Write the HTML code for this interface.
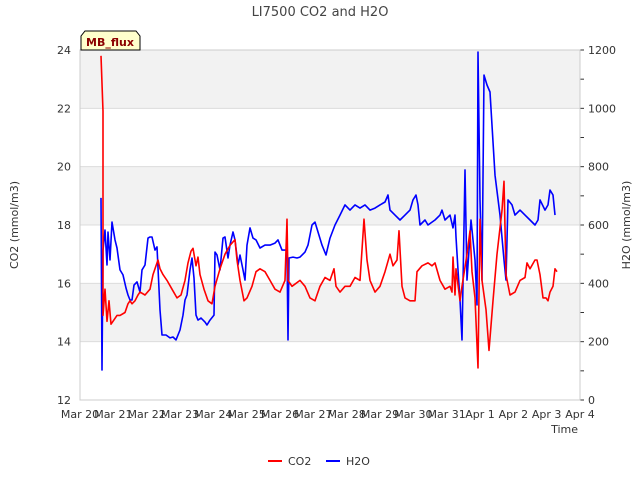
<!DOCTYPE html>
<html><head><meta charset="utf-8"><style>
body{margin:0;background:#fff;font-family:"Liberation Sans",sans-serif}
svg text{font-family:"DejaVu Sans","Liberation Sans",sans-serif}
</style></head><body>
<svg id="c" width="640" height="480"></svg>
<script>
const xTicks=["Mar 20","Mar 21","Mar 22","Mar 23","Mar 24","Mar 25","Mar 26","Mar 27","Mar 28","Mar 29","Mar 30","Mar 31","Apr 1","Apr 2","Apr 3","Apr 4"];
const yLeftTicks=[12,14,16,18,20,22,24];
const yRightTicks=[0,200,400,600,800,1000,1200];
const co2Days=[.63,.69,.69,.75,.81,.87,.93,.99,1.11,1.2,1.35,1.44,1.5,1.56,1.65,1.74,1.8,1.95,2.1,2.19,2.28,2.34,2.4,2.49,2.61,2.76,2.91,3.03,3.15,3.24,3.33,3.39,3.48,3.54,3.6,3.72,3.84,3.96,4.05,4.2,4.35,4.5,4.65,4.71,4.8,4.92,5.01,5.16,5.28,5.4,5.55,5.7,5.85,6.0,6.15,6.21,6.24,6.36,6.6,6.75,6.9,7.05,7.2,7.35,7.5,7.62,7.68,7.8,7.95,8.1,8.25,8.4,8.52,8.61,8.7,8.85,9.0,9.15,9.3,9.39,9.51,9.57,9.66,9.75,9.9,10.05,10.11,10.26,10.44,10.56,10.65,10.8,10.95,11.1,11.16,11.19,11.25,11.28,11.4,11.46,11.61,11.7,11.76,11.85,11.94,12.0,12.06,12.18,12.27,12.39,12.51,12.66,12.72,12.78,12.9,13.05,13.2,13.35,13.41,13.5,13.65,13.71,13.8,13.89,13.98,14.04,14.1,14.19,14.25,14.31];
const co2Vals=[23.8,21.9,14.9,15.8,14.7,15.4,14.6,14.7,14.9,14.9,15.0,15.3,15.4,15.3,15.4,15.6,15.7,15.6,15.8,16.3,16.6,16.8,16.5,16.3,16.1,15.8,15.5,15.6,16.1,16.7,17.1,17.2,16.6,16.9,16.3,15.8,15.4,15.3,15.9,16.5,17.0,17.3,17.5,16.8,16.1,15.4,15.5,15.9,16.4,16.5,16.4,16.1,15.8,15.7,16.1,18.2,16.1,15.9,16.1,15.9,15.5,15.4,15.9,16.2,16.1,16.5,15.9,15.7,15.9,15.9,16.2,16.1,18.2,16.8,16.1,15.7,15.9,16.4,17.0,16.6,16.8,17.8,15.9,15.5,15.4,15.4,16.4,16.6,16.7,16.6,16.7,16.1,15.8,15.9,15.7,16.9,15.6,16.5,15.4,15.9,17.0,17.8,16.4,15.5,13.1,18.2,16.1,15.1,13.7,15.4,17.0,18.5,19.5,16.3,15.6,15.7,16.1,16.2,16.7,16.5,16.8,16.8,16.3,15.5,15.5,15.4,15.7,15.9,16.5,16.4];
const h2oDays=[.63,.66,.69,.75,.81,.84,.9,.96,1.05,1.11,1.2,1.29,1.38,1.44,1.5,1.56,1.62,1.71,1.8,1.86,1.95,2.04,2.1,2.16,2.25,2.31,2.4,2.46,2.58,2.7,2.79,2.88,3.0,3.09,3.15,3.21,3.3,3.36,3.42,3.48,3.54,3.63,3.75,3.81,3.9,4.02,4.05,4.11,4.2,4.29,4.35,4.44,4.5,4.59,4.65,4.74,4.8,4.89,4.95,5.01,5.1,5.19,5.28,5.4,5.55,5.7,5.85,5.94,6.06,6.15,6.21,6.24,6.27,6.39,6.51,6.6,6.75,6.84,6.96,7.05,7.14,7.26,7.38,7.5,7.65,7.8,7.95,8.1,8.25,8.4,8.55,8.7,8.85,9.0,9.15,9.24,9.3,9.45,9.6,9.75,9.9,9.99,10.08,10.14,10.2,10.35,10.44,10.56,10.65,10.8,10.86,10.95,11.1,11.19,11.25,11.28,11.34,11.4,11.46,11.55,11.61,11.67,11.73,11.79,11.85,11.91,11.94,12.0,12.06,12.12,12.21,12.3,12.3,12.45,12.6,12.72,12.78,12.84,12.96,13.05,13.2,13.35,13.5,13.65,13.74,13.8,13.95,14.04,14.1,14.19,14.25];
const h2oVals=[693,103,514,583,463,576,480,610,549,521,446,429,384,360,343,343,394,405,370,446,463,555,559,559,514,525,309,223,223,213,216,206,240,291,343,360,446,487,418,291,274,281,267,257,274,291,507,497,446,555,559,487,531,576,549,463,497,446,411,531,590,555,549,521,531,531,538,549,514,514,514,206,487,490,487,490,507,531,600,610,576,531,497,555,600,634,669,651,669,658,669,651,658,669,679,703,651,634,617,634,651,686,703,669,600,617,600,610,617,634,651,617,634,590,634,559,446,343,206,789,411,514,617,549,480,326,1193,686,411,1114,1080,1056,1056,771,634,480,411,686,669,634,651,634,617,600,617,686,651,669,720,703,634,634];
const L=80,R=580,T=50,B=400;
const xs=d=>L+d*(R-L)/15, yl=v=>B-(v-12)*(B-T)/12, yr=v=>B-v*(B-T)/1200;
const svg=document.getElementById('c');const NS='http://www.w3.org/2000/svg';
function el(tag,at,txt){const e=document.createElementNS(NS,tag);for(const k in at)e.setAttribute(k,at[k]);if(txt!==undefined)e.textContent=txt;svg.appendChild(e);return e;}
let e;
[[22,24],[18,20],[14,16]].forEach(b=>{e=el('rect',{x:L,y:yl(b[1]),width:R-L,height:yl(b[0])-yl(b[1]),fill:'#f2f2f2'});

});
yLeftTicks.forEach(v=>{e=el('line',{x1:L,x2:R,y1:yl(v),y2:yl(v),stroke:'#dcdcdc'});


e=el('text',{x:L-9,y:yl(v)+4,'text-anchor':'end','font-size':11,fill:'#333'},v);

});
yRightTicks.forEach((v,i)=>{e=el('text',{x:R+8,y:yr(v)+4,'font-size':11,fill:'#333'},v);


el('line',{x1:R,x2:R+4,y1:yr(v),y2:yr(v),stroke:'#333'});
if(i<6)el('line',{x1:R,x2:R+4,y1:yr(v+100),y2:yr(v+100),stroke:'#333'});});
el('rect',{x:L,y:T,width:R-L,height:B-T,fill:'none',stroke:'#ccc'});
xTicks.forEach((t,i)=>{e=el('text',{x:xs(i),y:B+18,'text-anchor':'middle','font-size':11,fill:'#333'},t);

});
function line(days,vals,f,col,name){const p=days.map((d,i)=>xs(d).toFixed(1)+','+f(vals[i]).toFixed(1)).join(' ');
const g=el('polyline',{points:p,fill:'none',stroke:col,'stroke-width':1.6,'stroke-linejoin':'round'});return g;}
e=line(h2oDays,h2oVals,yr,'#0000ff');


e=line(co2Days,co2Vals,yl,'#ff0000');


e=el('text',{x:320,y:16,'text-anchor':'middle','font-size':13,fill:'#444'},'LI7500 CO2 and H2O');


e=el('text',{x:578,y:433,'text-anchor':'end','font-size':11,fill:'#333'},'Time');


e=el('text',{x:18,y:225,'text-anchor':'middle','font-size':11,fill:'#333',transform:'rotate(-90 18 225)'},'CO2 (mmol/m3)');


e=el('text',{x:630,y:225,'text-anchor':'middle','font-size':11,fill:'#333',transform:'rotate(-90 630 225)'},'H2O (mmol/m3)');


e=el('path',{d:'M81,50 L81,36 L85,31 L136,31 L140,36 L140,50 Z',fill:'#ffffcc',stroke:'#000'});


e=el('text',{x:110,y:46,'text-anchor':'middle','font-size':11,'font-weight':'bold',fill:'#8b0000'},'MB_flux');


e=el('line',{x1:268,x2:282,y1:461,y2:461,stroke:'#ff0000','stroke-width':2});


e=el('text',{x:288,y:465,'font-size':11,fill:'#333'},'CO2');


e=el('line',{x1:326,x2:340,y1:461,y2:461,stroke:'#0000ff','stroke-width':2});


e=el('text',{x:346,y:465,'font-size':11,fill:'#333'},'H2O');


</script>
</body></html>
